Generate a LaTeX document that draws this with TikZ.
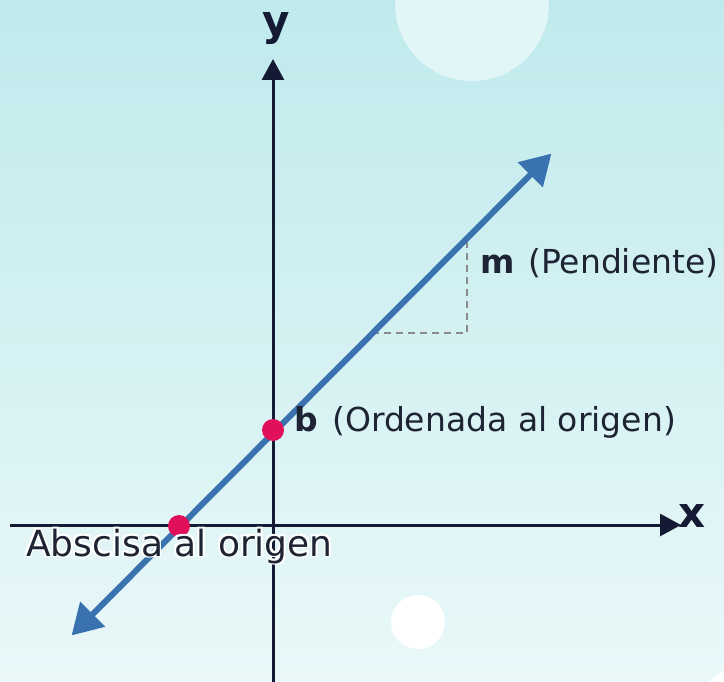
\documentclass[tikz,border=0pt]{standalone}
\usepackage{fontspec}
\setmainfont{DejaVu Sans}
\usetikzlibrary{arrows.meta,calc}
\definecolor{bgA}{HTML}{BFEAEC}
\definecolor{bgB}{HTML}{EAF8F9}
\definecolor{circA}{HTML}{E2F6F8}
\definecolor{axisc}{HTML}{141A33}
\definecolor{linec}{HTML}{3A72B0}
\definecolor{dotc}{HTML}{E0105A}
\definecolor{txtc}{HTML}{1E2433}
\definecolor{dashc}{HTML}{8A8A8A}
\tikzset{
  axisline/.style={line width=3pt, draw=axisc, -{Triangle[length=21pt,width=22pt]}},
  mainline/.style={line width=6pt, draw=linec, {Triangle[length=30pt,width=34pt]}-{Triangle[length=30pt,width=34pt]}, shorten <=-2pt, shorten >=-2pt},
  dotst/.style={circle, fill=dotc, minimum size=22pt, inner sep=0pt},
  lbl/.style={font=\fontsize{33}{38}\selectfont, text=txtc, inner sep=0pt, anchor=base west},
  biglbl/.style={lbl, font=\fontsize{36}{40}\selectfont},
  axlbl/.style={font=\fontsize{42}{46}\selectfont\bfseries, text=axisc, inner sep=0pt, anchor=base},
  dashst/.style={line width=2.5pt, draw=dashc, dash pattern=on 7pt off 5pt},
}
\begin{document}
\begin{tikzpicture}[x=1pt,y=-1pt]
\useasboundingbox (0,0) rectangle (724,682);
\shade[shading angle=30, top color=bgA, bottom color=bgB] (0,0) rectangle (724,682);
\fill[circA] (472,4) circle (77);
\fill[white] (418,622) circle (27);
\fill[white] (738,704) circle (36);
% axes
\coordinate (xs) at (10,525);
\coordinate (xe) at (681,525);
\coordinate (ys) at (273,682);
\coordinate (ye) at (273,59);
\draw[axisline] (xs) -- (xe);
\draw[axisline] (ys) -- (ye);
\node[axlbl] (ylab) at (276,36) {y};
\node[axlbl] (xlab) at (692,527) {x};
% slope triangle
\coordinate (t1) at (467,241);
\coordinate (t2) at (467,333);
\coordinate (t3) at (374,333);
\draw[dashst] (t1) -- (t2) -- (t3);
% main line
\coordinate (la) at (73,634);
\coordinate (lb) at (550,155);
\draw[mainline] (la) -- (lb);
% points
\node[dotst] (px) at (179,526) {};
\node[dotst] (pb) at (273,430) {};
% labels
\node[lbl] (mlab) at (480,274) {\textbf{m}};
\node[lbl] (mtxt) at (528,274) {(Pendiente)};
\node[lbl] (blab) at (294,431) {\textbf{b}};
\node[lbl] (btxt) at (332,431) {(Ordenada al origen)};
\foreach \a in {45,135,225,315}
  \node[biglbl, text=white] at ($(26,556)+(\a:2.4pt)$) {Abscisa al origen};
\node[biglbl] (alab) at (26,556) {Abscisa al origen};
\end{tikzpicture}
\end{document}
